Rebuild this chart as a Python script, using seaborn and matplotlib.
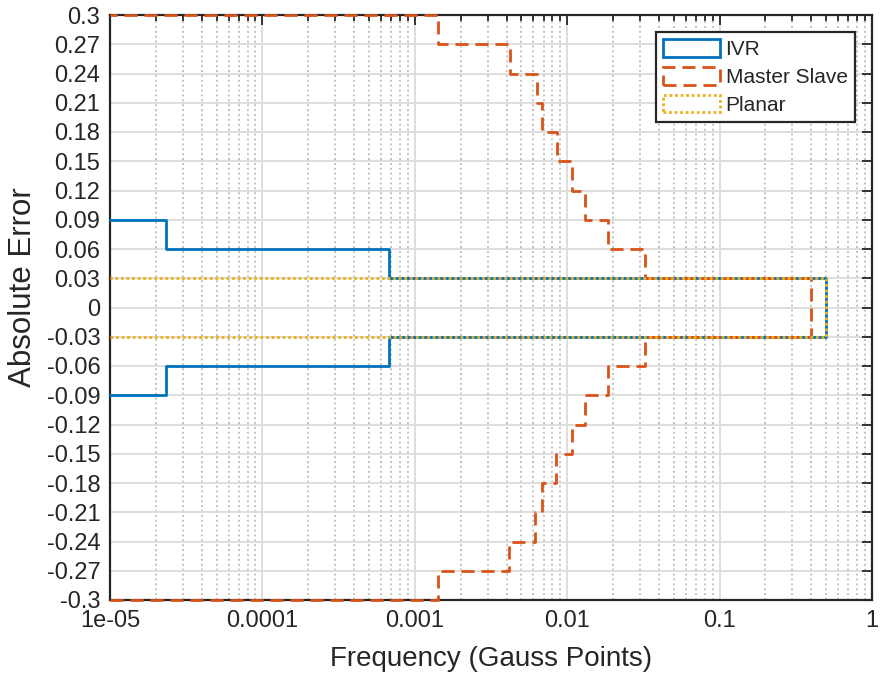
import numpy as np
import pandas as pd
import seaborn as sns
import matplotlib
matplotlib.use("Agg")
import matplotlib.pyplot as plt
from matplotlib.patches import Patch
from matplotlib.ticker import LogLocator, NullLocator, NullFormatter

# bin edges of the absolute error (y axis)
ms_edges = [-0.30, -0.27, -0.24, -0.21, -0.18, -0.15, -0.12, -0.09, -0.06, -0.03, 0.0,
            0.03, 0.06, 0.09, 0.12, 0.15, 0.18, 0.21, 0.24, 0.27, 0.30]
ivr_edges = [-0.09, -0.06, -0.03, 0.0, 0.03, 0.06, 0.09]
planar_edges = [-0.03, 0.0, 0.03]

# frequency of gauss points in each bin (x axis, log)
ms_freq = [0.00142, 0.00413, 0.00612, 0.00681, 0.00841, 0.01071, 0.01303, 0.01845, 0.0322, 0.396,
           0.396, 0.0322, 0.01845, 0.01303, 0.01071, 0.00853, 0.00681, 0.00631, 0.00420, 0.00142]
ivr_freq = [2.32e-5, 6.76e-4, 0.4993, 0.4993, 6.76e-4, 2.32e-5]
planar_freq = [0.5, 0.5]

series_names = ["IVR", "Master Slave", "Planar"]
colors = ["#0072BD", "#D95319", "#EDB120"]
styles = ["-", (0, (4.7, 2.5)), (0, (1, 1))]

x_ticks = [1e-5, 1e-4, 1e-3, 1e-2, 1e-1, 1]
x_tick_labels = ["1e-05", "0.0001", "0.001", "0.01", "0.1", "1"]
y_ticks = [-0.3, -0.27, -0.24, -0.21, -0.18, -0.15, -0.12, -0.09, -0.06, -0.03, 0,
           0.03, 0.06, 0.09, 0.12, 0.15, 0.18, 0.21, 0.24, 0.27, 0.3]
y_tick_labels = ["-0.3", "-0.27", "-0.24", "-0.21", "-0.18", "-0.15", "-0.12", "-0.09", "-0.06",
                 "-0.03", "0", "0.03", "0.06", "0.09", "0.12", "0.15", "0.18", "0.21", "0.24",
                 "0.27", "0.3"]

XMIN, XMAX = 1e-5, 1


def stairs_outline(edges, freq, base):
    """horizontal stairs histogram outline, like matlab DisplayStyle='stairs'"""
    xs = [base]
    ys = [edges[0]]
    for i, v in enumerate(freq):
        xs += [v, v]
        ys += [edges[i], edges[i + 1]]
    xs.append(base)
    ys.append(edges[-1])
    return pd.DataFrame({"freq": xs, "err": ys})


sns.set_theme(style="white")
plt.rcParams["font.family"] = ["Liberation Sans", "DejaVu Sans"]

fig = plt.figure(figsize=(8.89, 6.74), dpi=100)
ax = fig.add_axes([110 / 889, 1 - 600 / 674, 762 / 889, 585 / 674])

data = [(ivr_edges, ivr_freq), (ms_edges, ms_freq), (planar_edges, planar_freq)]
for (edges, freq), name, c, ls in zip(data, series_names, colors, styles):
    df = stairs_outline(edges, freq, XMIN)
    sns.lineplot(data=df, x="freq", y="err", sort=False, estimator=None, color=c,
                 linestyle=ls, lw=2, ax=ax, clip_on=False, zorder=3)

ax.set_xscale("log")
ax.set_xlim(XMIN, XMAX)
ax.set_ylim(-0.3, 0.3)
ax.set_xticks(x_ticks)
ax.set_xticklabels(x_tick_labels)
ax.xaxis.set_minor_locator(LogLocator(base=10, subs=np.arange(2, 10), numticks=20))
ax.xaxis.set_minor_formatter(NullFormatter())
ax.set_yticks(y_ticks)
ax.set_yticklabels(y_tick_labels)
ax.yaxis.set_minor_locator(NullLocator())

ax.set_axisbelow(True)
ax.grid(which="major", color="#dedede", lw=1.4, ls="-")
ax.grid(which="minor", axis="x", color="#b5b5b5", lw=1.1, ls=(0, (1.3, 1.9)))

ax.tick_params(which="both", direction="in", top=True, right=True, colors="#262626",
               labelsize=17, width=1.3)
ax.tick_params(axis="y", pad=7)
ax.tick_params(axis="x", pad=7)
ax.tick_params(which="major", length=7)
ax.tick_params(which="minor", length=4)
for sp in ax.spines.values():
    sp.set_color("#262626")
    sp.set_linewidth(1.6)
    sp.set_visible(True)

ax.set_xlabel("Frequency (Gauss Points)", fontsize=20, color="#262626", labelpad=10)
ax.set_ylabel("Absolute Error", fontsize=22.5, color="#262626")
ax.yaxis.set_label_coords(-0.094, 0.535)

handles = [Patch(facecolor="none", edgecolor=c, linestyle=ls, lw=2)
           for c, ls in zip(colors, styles)]
leg = ax.legend(handles, series_names, loc="upper right",
                bbox_to_anchor=(855 / 889, 1 - 32 / 674), bbox_transform=fig.transFigure,
                borderaxespad=0, fontsize=15, handlelength=2.75, handleheight=0.9,
                handletextpad=0.25, labelspacing=0.38, borderpad=0.36, fancybox=False,
                framealpha=1)
leg.get_frame().set_edgecolor("#262626")
leg.get_frame().set_linewidth(1.6)

fig.savefig("out.png", dpi=100)
